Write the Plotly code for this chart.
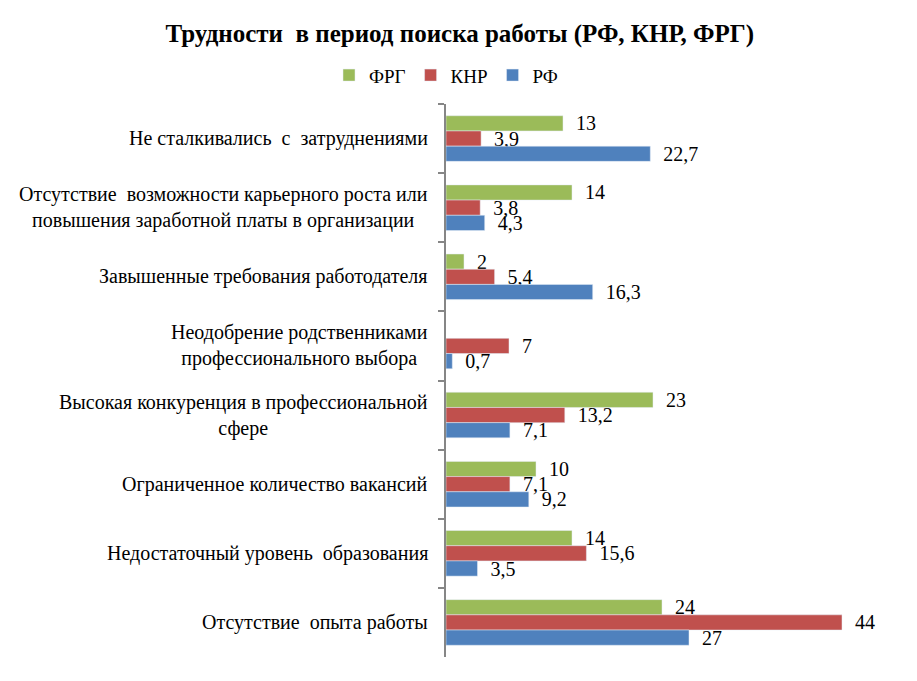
import plotly.graph_objects as go

categories = [
    "Не сталкивались  с  затруднениями",
    "Отсутствие  возможности карьерного роста или<br>повышения заработной платы в организации",
    "Завышенные требования работодателя",
    "Неодобрение родственниками<br>профессионального выбора",
    "Высокая конкуренция в профессиональной<br>сфере",
    "Ограниченное количество вакансий",
    "Недостаточный уровень  образования",
    "Отсутствие  опыта работы",
]

frg = [13, 14, 2, None, 23, 10, 14, 24]
knr = [3.9, 3.8, 5.4, 7, 13.2, 7.1, 15.6, 44]
rf = [22.7, 4.3, 16.3, 0.7, 7.1, 9.2, 3.5, 27]

SERIF = "Liberation Serif, Times New Roman, Tinos, DejaVu Serif, serif"


def labels(values):
    # comma as decimal separator, small gap before the number like in Excel
    return [
        "" if v is None else "\u00a0\u00a0" + str(v).replace(".", ",") for v in values
    ]


series = [
    ("ФРГ", frg, "#9BBB59"),
    ("КНР", knr, "#C0504D"),
    ("РФ", rf, "#4F81BD"),
]

fig = go.Figure()
for name, values, color in series:
    fig.add_trace(
        go.Bar(
            name=name,
            y=categories,
            x=values,
            orientation="h",
            marker=dict(color=color),
            text=labels(values),
            textposition="outside",
            constraintext="none",
            textfont=dict(family=SERIF, size=20, color="black"),
            cliponaxis=False,
        )
    )

# category names as centred multi-line labels (tick labels can only be right aligned)
for cat in categories:
    fig.add_annotation(
        text=cat,
        xref="paper",
        x=-0.035,
        xanchor="right",
        yref="y",
        y=cat,
        yanchor="middle",
        align="center",
        showarrow=False,
        font=dict(family=SERIF, size=20, color="black"),
    )

# the page body has an 8px margin, so the figure is 8px smaller than the window
fig.update_layout(
    width=909,
    height=673,
    barmode="group",
    bargap=0.34,
    bargroupgap=0,
    plot_bgcolor="white",
    paper_bgcolor="white",
    font=dict(family=SERIF, size=19, color="black"),
    margin=dict(l=438, r=21, t=96, b=24),
    title=dict(
        text="<b>Трудности  в период поиска работы (РФ, КНР, ФРГ)</b>",
        x=0.497,
        xanchor="center",
        y=0.963,
        yanchor="middle",
        font=dict(family=SERIF, size=25, color="black"),
    ),
    legend=dict(
        orientation="h",
        x=0.0,
        xanchor="center",
        y=1.052,
        yanchor="middle",
        font=dict(family=SERIF, size=19),
        itemwidth=30,
    ),
    showlegend=True,
)
fig.update_xaxes(
    range=[0, 50],
    showgrid=False,
    showticklabels=False,
    zeroline=False,
    showline=False,
)
fig.update_yaxes(
    autorange="reversed",
    showline=True,
    linecolor="#868686",
    linewidth=1.5,
    ticks="outside",
    tickson="boundaries",
    ticklen=6,
    tickcolor="#868686",
    tickwidth=1.5,
    showgrid=False,
    showticklabels=False,
)

fig.write_html("out.html")
